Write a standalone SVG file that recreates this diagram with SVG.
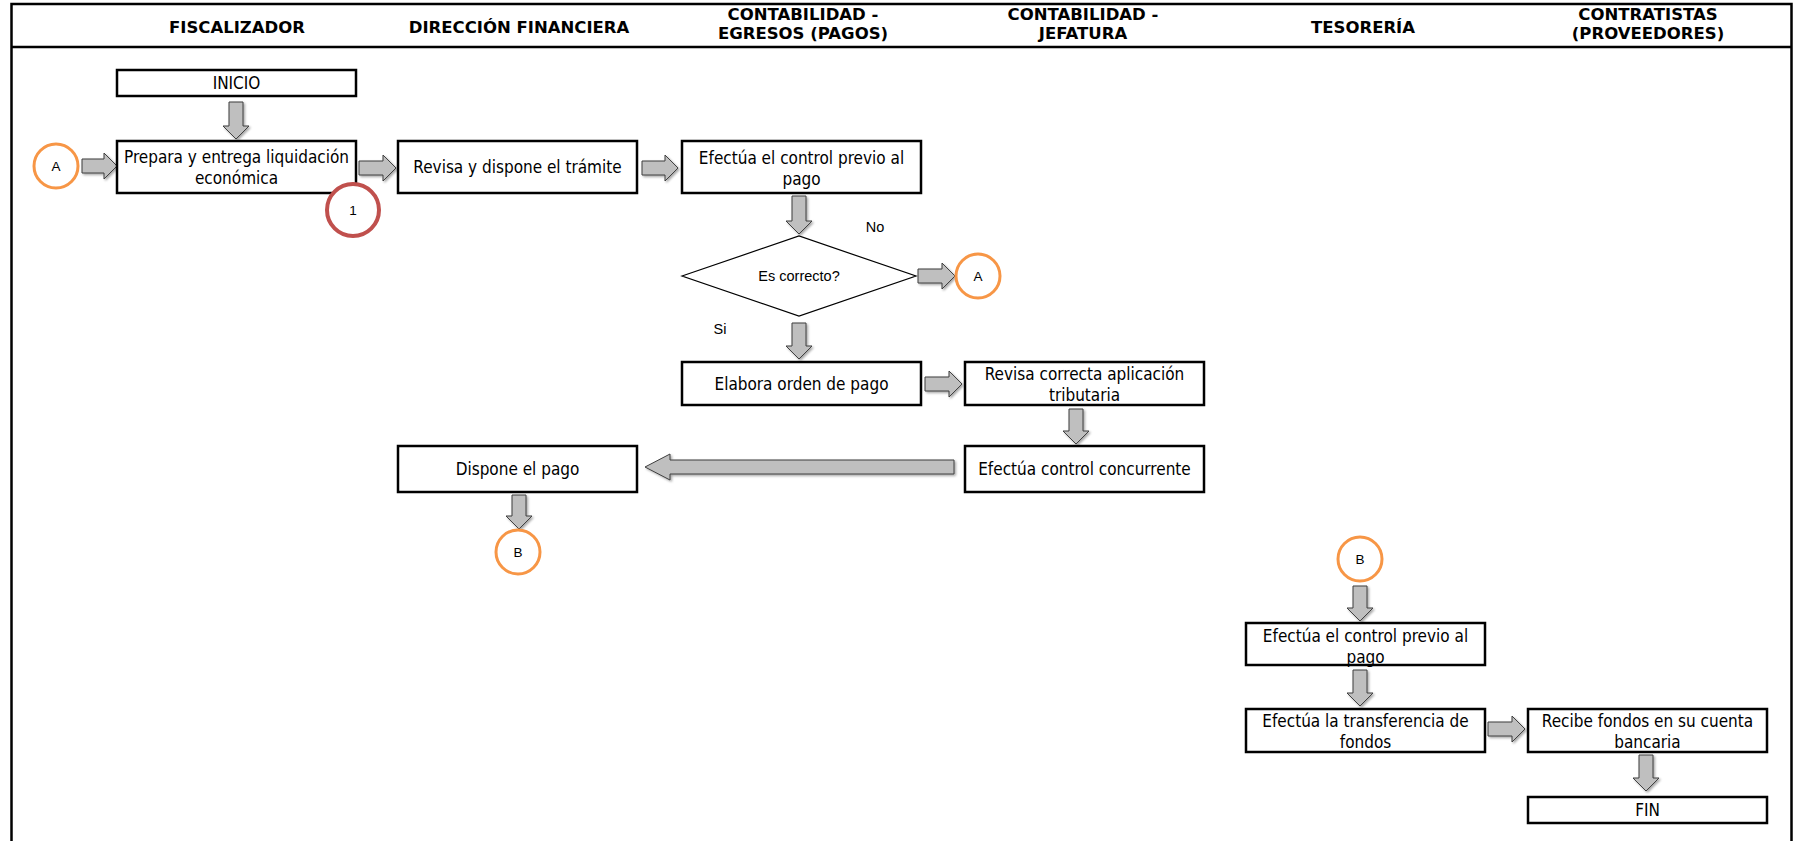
<svg xmlns="http://www.w3.org/2000/svg" width="1795" height="841" viewBox="0 0 1795 841">
  <defs>
    <filter id="shadow" x="-20%" y="-20%" width="150%" height="150%">
      <feDropShadow dx="1.5" dy="1.5" stdDeviation="1" flood-color="#000" flood-opacity="0.35"/>
    </filter>
    <style>
      .frame { fill: none; stroke: #000; stroke-width: 2.5; }
      .box { fill: #fff; stroke: #000; stroke-width: 2.5; }
      .dec { fill: #fff; stroke: #000; stroke-width: 1.2; }
      .conn { fill: #fff; stroke: #F79646; stroke-width: 3; }
      .mark { fill: #fff; stroke: #C0504D; stroke-width: 4; }
      .arrow { fill: #BFBFBF; stroke: #3F3F3F; stroke-width: 1; stroke-linejoin: miter; filter: url(#shadow); }
      .hdr { font-family: "DejaVu Sans", Verdana, sans-serif; font-weight: bold; font-size: 16.5px; fill: #000; text-anchor: middle; }
      .t { font-family: "DejaVu Sans Condensed", "DejaVu Sans", sans-serif; font-size: 17px; fill: #000; text-anchor: middle; dominant-baseline: central; }
      .s { font-family: "Liberation Sans", Arial, sans-serif; font-size: 14.5px; fill: #000; text-anchor: middle; dominant-baseline: central; }
      .c { font-family: "Liberation Sans", Arial, sans-serif; font-size: 13.5px; fill: #000; text-anchor: middle; dominant-baseline: central; }
    </style>
  </defs>

  <rect width="1795" height="841" fill="#fff"/>

  <!-- lane frame and header -->
  <g id="lanes">
    <path class="frame" d="M11.5,860 V4 H1791.5 V860"/>
    <line class="frame" x1="11.5" y1="47" x2="1791.5" y2="47"/>
    <text class="hdr" x="237" y="33">FISCALIZADOR</text>
    <text class="hdr" x="519" y="33">DIRECCIÓN FINANCIERA</text>
    <text class="hdr" x="803" y="20">CONTABILIDAD -</text>
    <text class="hdr" x="803" y="39">EGRESOS (PAGOS)</text>
    <text class="hdr" x="1083" y="20">CONTABILIDAD -</text>
    <text class="hdr" x="1083" y="39">JEFATURA</text>
    <text class="hdr" x="1363" y="33">TESORERÍA</text>
    <text class="hdr" x="1648" y="20">CONTRATISTAS</text>
    <text class="hdr" x="1648" y="39">(PROVEEDORES)</text>
  </g>

  <!-- block arrows -->
  <g id="connectors">
    <path class="arrow" d="M229,102 H243 V126 H249 L236,139 L223,126 H229 Z"/>
    <path class="arrow" d="M82,159 H104 V153 L117,166 L104,179 V173 H82 Z"/>
    <path class="arrow" d="M359,161 H383 V155 L396,168 L383,181 V175 H359 Z"/>
    <path class="arrow" d="M642,161 H665 V155 L678,168 L665,181 V175 H642 Z"/>
    <path class="arrow" d="M792,196 H806 V221 H812 L799,234 L786,221 H792 Z"/>
    <path class="arrow" d="M918,269 H942 V263 L955,276 L942,289 V283 H918 Z"/>
    <path class="arrow" d="M792,323 H806 V346 H812 L799,359 L786,346 H792 Z"/>
    <path class="arrow" d="M925,377 H949 V371 L962,384 L949,397 V391 H925 Z"/>
    <path class="arrow" d="M1069,409 H1083 V431 H1089 L1076,444 L1063,431 H1069 Z"/>
    <path class="arrow" d="M954,460 H670 V454 L645,467 L670,480 V474 H954 Z"/>
    <path class="arrow" d="M512,495 H526 V516 H532 L519,529 L506,516 H512 Z"/>
    <path class="arrow" d="M1353,586 H1367 V608 H1373 L1360,621 L1347,608 H1353 Z"/>
    <path class="arrow" d="M1353,670 H1367 V693 H1373 L1360,706 L1347,693 H1353 Z"/>
    <path class="arrow" d="M1488,722 H1512 V716 L1525,729 L1512,742 V736 H1488 Z"/>
    <path class="arrow" d="M1639,755 H1653 V778 H1659 L1646,791 L1633,778 H1639 Z"/>
  </g>

  <!-- Fiscalizador -->
  <g id="inicio">
    <rect class="box" x="117" y="70" width="239" height="26"/>
    <text class="t" x="236.5" y="83">INICIO</text>
  </g>
  <g id="prepara">
    <rect class="box" x="117" y="141" width="239" height="52"/>
    <text class="t" x="236.5" y="157">Prepara y entrega liquidación</text>
    <text class="t" x="236.5" y="178">económica</text>
  </g>
  <g id="conector-a-entrada">
    <circle class="conn" cx="56" cy="166" r="22"/>
    <text class="c" x="56" y="166">A</text>
  </g>
  <g id="marca-1">
    <circle class="mark" cx="353" cy="210" r="26"/>
    <text class="c" x="353" y="210">1</text>
  </g>

  <!-- Dirección Financiera -->
  <g id="revisa-tramite">
    <rect class="box" x="398" y="141" width="239" height="52"/>
    <text class="t" x="517.5" y="167">Revisa y dispone el trámite</text>
  </g>
  <g id="dispone-pago">
    <rect class="box" x="398" y="446" width="239" height="46"/>
    <text class="t" x="517.5" y="469">Dispone el pago</text>
  </g>
  <g id="conector-b-salida">
    <circle class="conn" cx="518" cy="552" r="22"/>
    <text class="c" x="518" y="552">B</text>
  </g>

  <!-- Contabilidad - Egresos -->
  <g id="control-previo">
    <rect class="box" x="682" y="141" width="239" height="52"/>
    <text class="t" x="801.5" y="158">Efectúa el control previo al</text>
    <text class="t" x="801.5" y="179">pago</text>
  </g>
  <g id="es-correcto">
    <polygon class="dec" points="682,276 799,236 916,276 799,316"/>
    <text class="s" x="799" y="276">Es correcto?</text>
  </g>
  <text class="s" x="875" y="227">No</text>
  <text class="s" x="720" y="329">Si</text>
  <g id="conector-a-salida">
    <circle class="conn" cx="978" cy="276" r="22"/>
    <text class="c" x="978" y="276">A</text>
  </g>
  <g id="orden-pago">
    <rect class="box" x="682" y="362" width="239" height="43"/>
    <text class="t" x="801.5" y="384">Elabora orden de pago</text>
  </g>

  <!-- Contabilidad - Jefatura -->
  <g id="aplicacion-tributaria">
    <rect class="box" x="965" y="362" width="239" height="43"/>
    <text class="t" x="1084.5" y="374">Revisa correcta aplicación</text>
    <text class="t" x="1084.5" y="395">tributaria</text>
  </g>
  <g id="control-concurrente">
    <rect class="box" x="965" y="446" width="239" height="46"/>
    <text class="t" x="1084.5" y="469">Efectúa control concurrente</text>
  </g>

  <!-- Tesorería -->
  <g id="conector-b-entrada">
    <circle class="conn" cx="1360" cy="559" r="22"/>
    <text class="c" x="1360" y="559">B</text>
  </g>
  <g id="control-previo-tesoreria">
    <rect class="box" x="1246" y="623" width="239" height="42"/>
    <text class="t" x="1365.5" y="636">Efectúa el control previo al</text>
    <text class="t" x="1365.5" y="657">pago</text>
  </g>
  <g id="transferencia">
    <rect class="box" x="1246" y="709" width="239" height="43"/>
    <text class="t" x="1365.5" y="721">Efectúa la transferencia de</text>
    <text class="t" x="1365.5" y="742">fondos</text>
  </g>

  <!-- Contratistas -->
  <g id="recibe-fondos">
    <rect class="box" x="1528" y="709" width="239" height="43"/>
    <text class="t" x="1647.5" y="721">Recibe fondos en su cuenta</text>
    <text class="t" x="1647.5" y="742">bancaria</text>
  </g>
  <g id="fin">
    <rect class="box" x="1528" y="797" width="239" height="26"/>
    <text class="t" x="1647.5" y="810">FIN</text>
  </g>
</svg>
